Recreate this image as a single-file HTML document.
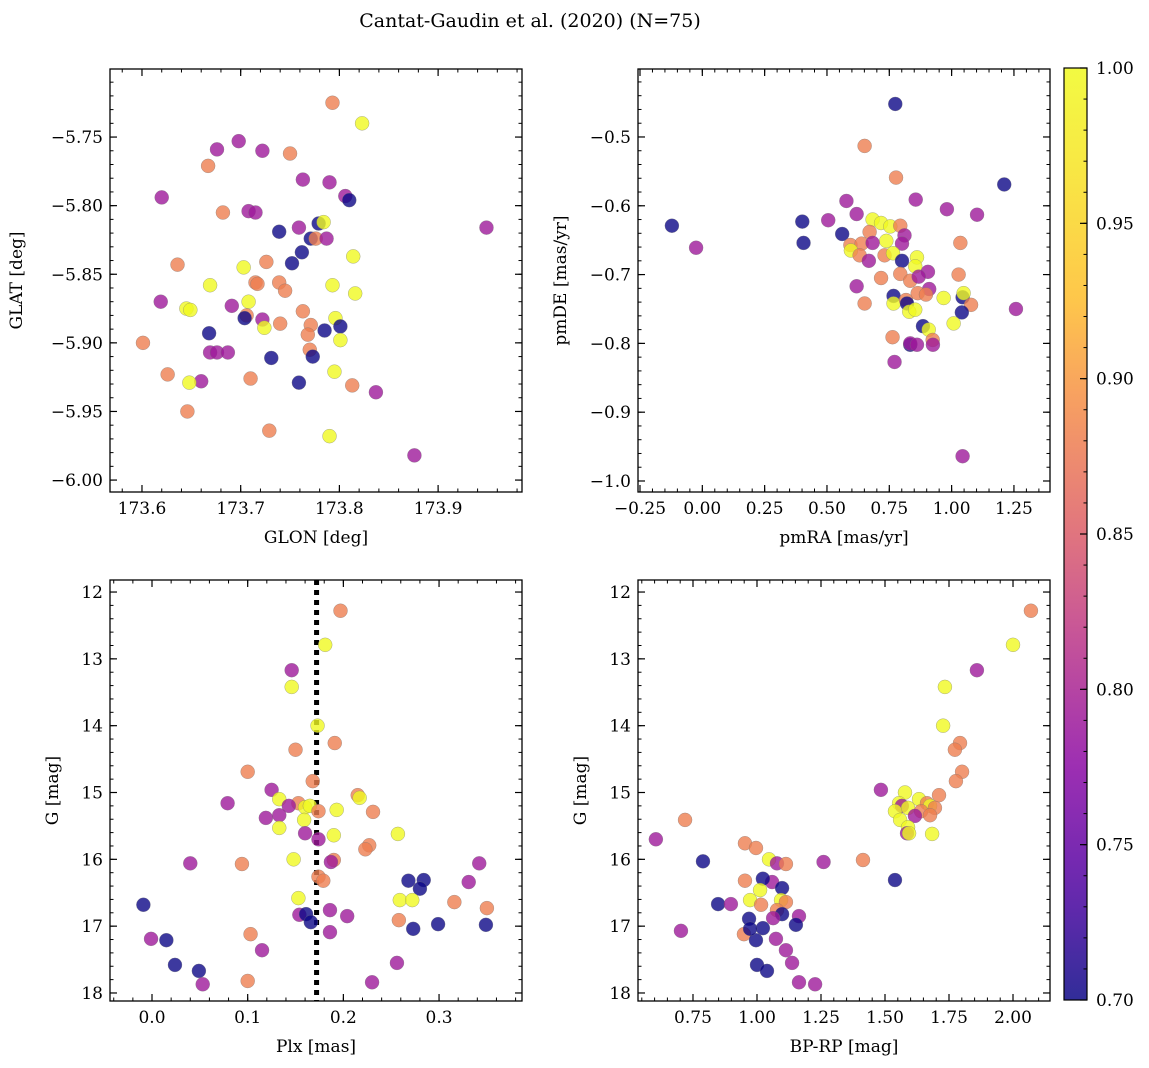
<!DOCTYPE html>
<html><head><meta charset="utf-8">
<style>
html,body{margin:0;padding:0;background:#fff;}
svg{display:block;font-family:"DejaVu Serif","Liberation Serif",serif;}
</style></head>
<body>
<svg id="fig" width="1149" height="1068" viewBox="0 0 1149 1068">
<text x="530" y="27" text-anchor="middle" font-size="19">Cantat-Gaudin et al. (2020) (N=75)</text>
</svg>
<script>
// ---- Panel 1: GLON / GLAT ----
const p1x=[173.793,173.823,173.676,173.698,173.722,173.750,173.667,173.763,173.790,173.620,173.806,173.810,173.682,173.708,173.715,173.779,173.784,173.759,173.949,173.739,173.771,173.776,173.787,173.762,173.814,173.636,173.752,173.726,173.703,173.715,173.717,173.739,173.745,173.669,173.793,173.816,173.619,173.708,173.691,173.645,173.649,173.763,173.706,173.704,173.722,173.724,173.740,173.796,173.771,173.801,173.785,173.768,173.668,173.801,173.601,173.669,173.676,173.687,173.770,173.773,173.731,173.795,173.626,173.710,173.660,173.648,173.759,173.813,173.837,173.646,173.729,173.790,173.876];
const p1y=[-5.725,-5.740,-5.759,-5.753,-5.760,-5.762,-5.771,-5.781,-5.783,-5.794,-5.793,-5.796,-5.805,-5.804,-5.805,-5.813,-5.812,-5.816,-5.816,-5.819,-5.824,-5.824,-5.824,-5.834,-5.837,-5.843,-5.842,-5.841,-5.845,-5.856,-5.857,-5.856,-5.862,-5.858,-5.858,-5.864,-5.870,-5.870,-5.873,-5.875,-5.876,-5.877,-5.880,-5.882,-5.883,-5.889,-5.886,-5.882,-5.887,-5.888,-5.891,-5.894,-5.893,-5.898,-5.900,-5.907,-5.907,-5.907,-5.905,-5.910,-5.911,-5.921,-5.923,-5.926,-5.928,-5.929,-5.929,-5.931,-5.936,-5.950,-5.964,-5.968,-5.982];
const p1c=[0.88,1,0.79,0.79,0.79,0.88,0.88,0.79,0.79,0.79,0.79,0.7,0.88,0.79,0.79,0.7,1,0.79,0.79,0.7,0.7,0.88,0.79,0.7,1,0.88,0.7,0.88,1,0.88,0.88,0.88,0.88,1,1,1,0.79,1,0.79,1,1,0.88,0.88,0.7,0.79,1,0.88,1,0.88,0.7,0.7,0.88,0.7,1,0.88,0.79,0.79,0.79,0.88,0.7,0.7,1,0.88,0.88,0.79,1,0.7,0.88,0.79,0.88,0.88,1,0.79];
// ---- Panel 2: pmRA / pmDE ----
const p2x=[0.774,0.651,0.777,1.211,0.856,0.578,0.981,1.102,0.619,0.505,-0.122,0.401,0.683,0.717,0.754,0.794,0.561,0.671,0.811,0.738,0.406,-0.025,0.594,0.639,0.683,0.801,1.035,0.596,0.631,0.731,0.765,0.801,0.861,0.854,0.668,0.794,0.905,1.028,0.717,0.834,0.868,0.619,0.910,0.864,0.897,0.968,1.044,1.048,1.078,0.767,0.767,0.817,0.821,0.651,0.830,0.854,1.041,1.258,1.008,0.885,0.908,0.924,0.925,0.763,0.834,0.834,0.861,0.771,1.044];
const p2y=[-0.452,-0.513,-0.559,-0.569,-0.591,-0.593,-0.605,-0.613,-0.612,-0.621,-0.629,-0.623,-0.620,-0.625,-0.630,-0.629,-0.641,-0.638,-0.643,-0.651,-0.654,-0.661,-0.657,-0.655,-0.654,-0.655,-0.654,-0.665,-0.672,-0.672,-0.669,-0.680,-0.675,-0.688,-0.680,-0.699,-0.696,-0.700,-0.705,-0.709,-0.703,-0.717,-0.721,-0.727,-0.729,-0.734,-0.733,-0.727,-0.744,-0.731,-0.742,-0.737,-0.742,-0.742,-0.754,-0.751,-0.755,-0.750,-0.771,-0.775,-0.780,-0.795,-0.802,-0.791,-0.802,-0.800,-0.802,-0.827,-0.964];
const p2c=[0.7,0.88,0.88,0.7,0.79,0.79,0.79,0.79,0.79,0.79,0.7,0.7,1,1,1,0.88,0.7,0.88,0.79,1,0.7,0.79,0.88,0.88,0.79,0.79,0.88,1,0.88,0.88,1,0.7,1,1,0.79,0.88,0.79,0.88,0.88,0.88,0.79,0.79,0.79,0.88,0.88,1,0.7,1,0.88,0.7,1,0.88,0.7,0.88,1,1,0.7,0.79,1,0.7,1,0.88,0.79,0.88,0.7,0.79,0.79,0.79,0.79];
// ---- Panel 3: Plx / G ----
const p3x=[0.197,0.181,0.146,0.146,0.173,0.191,0.150,0.100,0.168,0.125,0.215,0.217,0.133,0.079,0.153,0.143,0.160,0.165,0.174,0.193,0.231,0.133,0.119,0.159,0.133,0.160,0.174,0.190,0.257,0.227,0.223,0.148,0.190,0.187,0.040,0.094,0.342,0.174,0.179,0.268,0.284,0.331,0.280,0.153,0.259,0.272,0.316,0.350,-0.009,0.186,0.204,0.154,0.161,0.166,0.258,0.299,0.349,0.273,0.186,0.103,-0.001,0.015,0.115,0.024,0.256,0.049,0.100,0.230,0.053];
const p3y=[12.28,12.79,13.17,13.42,14.00,14.26,14.36,14.69,14.83,14.96,15.04,15.08,15.10,15.16,15.16,15.20,15.22,15.20,15.28,15.26,15.29,15.34,15.38,15.41,15.53,15.61,15.70,15.64,15.62,15.79,15.85,16.00,16.01,16.04,16.06,16.07,16.06,16.26,16.32,16.32,16.31,16.34,16.44,16.58,16.61,16.61,16.64,16.73,16.68,16.76,16.85,16.83,16.82,16.94,16.91,16.97,16.98,17.04,17.09,17.12,17.19,17.21,17.36,17.58,17.55,17.67,17.82,17.84,17.87];
const p3c=[0.88,1,0.79,1,1,0.88,0.88,0.88,0.88,0.79,0.88,1,1,0.79,0.88,0.79,1,1,0.88,1,0.88,0.79,0.79,1,1,0.79,0.79,1,1,0.88,0.88,1,0.88,0.79,0.79,0.88,0.79,0.88,0.88,0.7,0.7,0.79,0.7,1,1,1,0.88,0.88,0.7,0.79,0.79,0.79,0.7,0.7,0.88,0.7,0.7,0.7,0.79,0.88,0.79,0.7,0.79,0.7,0.79,0.7,0.88,0.79,0.79];
const plxLine=0.172;
// ---- Panel 4: BP-RP / G ----
const p4x=[2.070,2.000,1.859,1.734,1.727,1.793,1.773,1.801,1.777,1.484,1.711,1.578,1.633,1.555,1.664,1.566,1.676,1.590,1.695,1.641,1.539,1.617,1.676,1.559,1.590,1.586,1.594,1.684,0.605,0.719,0.953,0.996,1.047,1.414,1.078,1.260,1.113,0.789,1.539,0.953,1.059,1.023,1.098,1.012,0.973,1.094,1.113,0.848,0.898,1.016,1.078,1.164,1.098,0.969,1.063,1.152,1.023,0.703,0.949,1.074,0.996,1.113,1.137,1.000,1.039,1.164,1.227,0.973];
const p4y=[12.28,12.79,13.17,13.42,14.00,14.26,14.36,14.69,14.83,14.96,15.04,15.00,15.10,15.16,15.16,15.20,15.20,15.23,15.23,15.28,15.28,15.35,15.34,15.41,15.52,15.61,15.61,15.62,15.70,15.41,15.76,15.83,16.00,16.01,16.06,16.04,16.07,16.03,16.31,16.32,16.34,16.29,16.43,16.46,16.61,16.61,16.64,16.67,16.67,16.68,16.76,16.85,16.82,16.89,16.88,16.98,17.03,17.07,17.12,17.19,17.21,17.36,17.55,17.58,17.67,17.84,17.87,17.04];
const p4c=[0.88,1,0.79,1,1,0.88,0.88,0.88,0.88,0.79,0.88,1,1,1,0.88,0.79,1,1,0.88,0.88,1,0.79,0.88,1,1,0.79,1,1,0.79,0.88,0.88,0.88,1,0.88,0.79,0.79,0.88,0.7,0.7,0.88,0.79,0.7,0.7,1,1,1,0.88,0.7,0.79,0.88,0.88,0.79,0.7,0.7,0.79,0.7,0.7,0.79,0.88,0.79,0.7,0.79,0.79,0.7,0.7,0.79,0.79,0.7];
const cbTicks=[0.70,0.75,0.80,0.85,0.90,0.95,1.00];

const NS='http://www.w3.org/2000/svg';
const svg=document.getElementById('fig');
function mk(tag,attrs,parent){const e=document.createElementNS(NS,tag);for(const k in attrs)e.setAttribute(k,attrs[k]);(parent||svg).appendChild(e);return e;}
const stops2=[[0,[13,8,135]],[0.13,[84,2,163]],[0.25,[139,10,165]],[0.38,[185,50,137]],[0.5,[219,92,104]],[0.63,[244,136,73]],[0.75,[254,188,43]],[0.88,[248,225,35]],[1,[240,249,33]]];
function plasma(t){t=Math.max(0,Math.min(1,t));for(let i=0;i<stops2.length-1;i++){const a=stops2[i],b=stops2[i+1];if(t<=b[0]){const f=(t-a[0])/(b[0]-a[0]);return 'rgb('+a[1].map((v,j)=>Math.round(v+(b[1][j]-v)*f)).join(',')+')';}}return 'rgb(240,249,33)';}
function cmap(c){return plasma((c-0.7)/0.3);}
function fmt(v,d){const s=Math.abs(v).toFixed(d);return (v<-1e-9?'\u2212':'')+s;}

function panel(o){
  const g=mk('g',{});
  
  
  const sx=v=>o.L+(v-o.x0)/(o.x1-o.x0)*(o.R-o.L);
  const sy=v=>o.B-(v-o.y0)/(o.y1-o.y0)*(o.B-o.T);
  if(o.extra)o.extra(g,sx,sy);
  for(let i=0;i<o.xs.length;i++){
    const p=mk('circle',{cx:sx(o.xs[i]),cy:sy(o.ys[i]),r:7,fill:cmap(o.cs[i]),'fill-opacity':0.8,stroke:'#777','stroke-width':0.5,'stroke-opacity':0.6},g);
    
    
  }
  const fr=mk('rect',{x:o.L,y:o.T,width:o.R-o.L,height:o.B-o.T,fill:'none',stroke:'#000','stroke-width':1.3},g);
  
  
  for(let k=Math.ceil(Math.min(o.x0,o.x1)/o.xm-1e-6);k*o.xm<=Math.max(o.x0,o.x1)+1e-9;k++){const X=sx(k*o.xm);mk('line',{x1:X,x2:X,y1:o.B,y2:o.B-3.5,stroke:'#000'},g);mk('line',{x1:X,x2:X,y1:o.T,y2:o.T+3.5,stroke:'#000'},g);}
  for(let k=Math.ceil(Math.min(o.y0,o.y1)/o.ym-1e-6);k*o.ym<=Math.max(o.y0,o.y1)+1e-9;k++){const Y=sy(k*o.ym);mk('line',{x1:o.L,x2:o.L+3.5,y1:Y,y2:Y,stroke:'#000'},g);mk('line',{x1:o.R,x2:o.R-3.5,y1:Y,y2:Y,stroke:'#000'},g);}
  o.xt.forEach(v=>{const X=sx(v);mk('line',{x1:X,x2:X,y1:o.B,y2:o.B-7,stroke:'#000','stroke-width':1.2},g);mk('line',{x1:X,x2:X,y1:o.T,y2:o.T+7,stroke:'#000','stroke-width':1.2},g);
    const t=mk('text',{x:X,y:o.B+22,'text-anchor':'middle','font-size':17},g);t.textContent=fmt(v,o.xd);
    
    });
  o.yt.forEach(v=>{const Y=sy(v);mk('line',{x1:o.L,x2:o.L+7,y1:Y,y2:Y,stroke:'#000','stroke-width':1.2},g);mk('line',{x1:o.R,x2:o.R-7,y1:Y,y2:Y,stroke:'#000','stroke-width':1.2},g);
    const t=mk('text',{x:o.L-7,y:Y+6,'text-anchor':'end','font-size':17},g);t.textContent=fmt(v,o.yd);
    
    });
  const xl=mk('text',{x:(o.L+o.R)/2,y:o.B+51,'text-anchor':'middle','font-size':17},g);xl.textContent=o.xlab;
  
  
  const cx=o.ylx,cy=(o.T+o.B)/2;
  const yl=mk('text',{x:cx,y:cy,'text-anchor':'middle','font-size':17,transform:'rotate(-90 '+cx+' '+cy+')'},g);yl.textContent=o.ylab;
  
  
}
const rng=(a,b,s)=>{const r=[];for(let v=a;v<=b+1e-9;v+=s)r.push(+v.toFixed(6));return r;};
panel({name:'glon-glat-panel',L:110,R:522,T:69,B:492,x0:173.5676,x1:173.985,y0:-6.0087,y1:-5.7004,xs:p1x,ys:p1y,cs:p1c,xt:rng(173.6,173.9,0.1),yt:rng(-6.0,-5.75,0.05),xm:0.02,ym:0.01,xd:1,yd:2,xlab:'GLON [deg]',ylab:'GLAT [deg]',ylx:22});
panel({name:'proper-motion-panel',L:638,R:1050,T:69,B:492,x0:-0.258,x1:1.3946,y0:-1.016,y1:-0.4012,xs:p2x,ys:p2y,cs:p2c,xt:rng(-0.25,1.25,0.25),yt:rng(-1.0,-0.5,0.1),xm:0.05,ym:0.02,xd:2,yd:1,xlab:'pmRA [mas/yr]',ylab:'pmDE [mas/yr]',ylx:566});
panel({name:'parallax-panel',L:110,R:522,T:580,B:1001,x0:-0.0439,x1:0.3867,y0:18.12,y1:11.82,xs:p3x,ys:p3y,cs:p3c,xt:rng(0,0.3,0.1),yt:rng(12,18,1),xm:0.02,ym:0.2,xd:1,yd:0,xlab:'Plx [mas]',ylab:'G [mag]',ylx:58,
  extra:(g,sx,sy)=>{const l=mk('line',{x1:sx(plxLine),x2:sx(plxLine),y1:580,y2:1001,stroke:'#000','stroke-width':5,'stroke-dasharray':'5,5'},g);}});
panel({name:'cmd-panel',L:638,R:1050,T:580,B:1001,x0:0.5352,x1:2.1445,y0:18.12,y1:11.82,xs:p4x,ys:p4y,cs:p4c,xt:rng(0.75,2.0,0.25),yt:rng(12,18,1),xm:0.05,ym:0.2,xd:2,yd:0,xlab:'BP-RP [mag]',ylab:'G [mag]',ylx:586});
const cb=mk('g',{});


const CL=1064,CR=1087,CT=68,CB=1000;
const defs=mk('defs',{},cb);const lg=mk('linearGradient',{id:'cbg',x1:0,y1:1,x2:0,y2:0},defs);
for(let i=0;i<=20;i++){const t=i/20;mk('stop',{offset:t,'stop-color':plasma(t),'stop-opacity':0.85},lg);}
mk('rect',{x:CL,y:CT,width:CR-CL,height:CB-CT,fill:'url(#cbg)',stroke:'#000','stroke-width':1.2},cb);
const cy=v=>CB-(v-0.7)/0.3*(CB-CT);
for(let k=70;k<=100;k++){const Y=cy(k/100);mk('line',{x1:CR,x2:CR-3.5,y1:Y,y2:Y,stroke:'#000'},cb);}
cbTicks.forEach(v=>{const Y=cy(v);mk('line',{x1:CR,x2:CR-7,y1:Y,y2:Y,stroke:'#000','stroke-width':1.2},cb);const t=mk('text',{x:CR+9,y:Y+6,'font-size':17},cb);t.textContent=v.toFixed(2);
  
  });
</script>
</body></html>
